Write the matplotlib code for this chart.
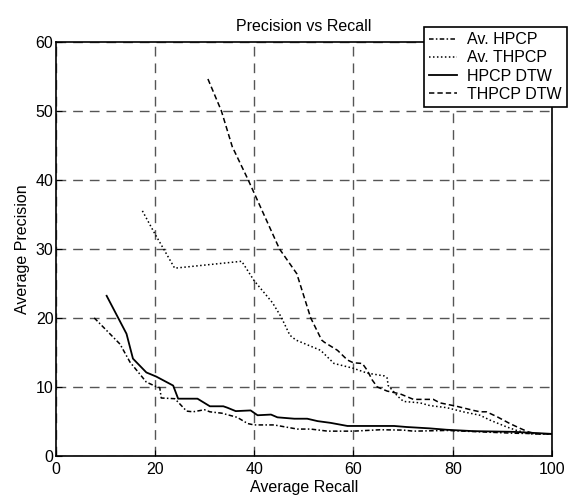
import matplotlib
matplotlib.use("Agg")
import matplotlib.pyplot as plt

# ---- data ----
av_hpcp_recall = [7.8, 13.0, 15.0, 18.3, 20.3, 21.0, 21.3, 24.0, 24.7, 26.4, 27.7, 30.0, 31.1, 33.5,
                  36.6, 38.7, 40.0, 44.0, 48.7, 51.4, 54.8, 60.0, 65.4, 70.0, 72.1, 78.8, 85.5, 92.2, 100]
av_hpcp_prec = [20.0, 16.2, 13.6, 10.7, 10.05, 9.9, 8.4, 8.3, 7.8, 6.5, 6.4, 6.7, 6.4, 6.2,
                5.6, 4.7, 4.5, 4.5, 3.9, 3.9, 3.6, 3.6, 3.8, 3.75, 3.6, 3.7, 3.5, 3.3, 3.2]

av_thpcp_recall = [17.5, 20.0, 22.0, 24.0, 37.5, 40.0, 43.7, 45.4, 47.2, 48.4, 53.4, 56.1, 60.0, 62.8,
                   66.2, 66.8, 67.0, 69.0, 70.1, 73.4, 75.4, 78.8, 82.1, 85.5, 87.5, 90.9, 92.9, 95.6, 100]
av_thpcp_prec = [35.5, 32.2, 29.7, 27.2, 28.2, 25.4, 22.2, 20.2, 17.5, 16.8, 15.3, 13.4, 12.7, 12.0,
                 11.6, 11.3, 10.2, 8.6, 7.9, 7.7, 7.3, 7.0, 6.4, 5.9, 5.2, 4.2, 3.7, 3.2, 3.2]

hpcp_dtw_recall = [10.3, 14.3, 15.6, 18.3, 20.3, 23.7, 24.7, 28.6, 31.1, 33.8, 34.6, 36.3, 39.3, 40.7,
                   43.4, 44.7, 48.1, 50.7, 52.8, 55.4, 58.8, 68.2, 70.7, 75.4, 78.8, 84.2, 92.2, 100]
hpcp_dtw_prec = [23.2, 17.7, 14.1, 12.1, 11.5, 10.2, 8.3, 8.3, 7.2, 7.2, 7.0, 6.5, 6.6, 5.9,
                 6.0, 5.6, 5.4, 5.4, 5.05, 4.8, 4.35, 4.35, 4.2, 4.0, 3.8, 3.6, 3.5, 3.2]

thpcp_dtw_recall = [30.7, 33.4, 35.6, 38.8, 45.1, 48.6, 51.4, 53.6, 54.1, 56.8, 58.8, 60.0, 61.8, 62.8,
                    63.8, 64.8, 66.8, 69.4, 72.1, 76.1, 77.4, 80.8, 84.2, 85.5, 86.8, 88.9, 91.5, 93.6,
                    95.2, 96.9, 100]
thpcp_dtw_prec = [54.6, 50.0, 44.8, 40.0, 30.0, 26.4, 20.0, 16.8, 16.5, 15.3, 13.9, 13.5, 13.4, 12.4,
                  11.0, 10.0, 9.4, 9.0, 8.2, 8.2, 7.7, 7.2, 6.6, 6.4, 6.4, 5.7, 4.7, 4.0,
                  3.5, 3.2, 3.2]

labels = ["Av. HPCP", "Av. THPCP", "HPCP DTW", "THPCP DTW"]
xticks = [0, 20, 40, 60, 80, 100]
yticks = [0, 10, 20, 30, 40, 50, 60]

plt.rcParams['font.family'] = ['Liberation Sans', 'DejaVu Sans']

W, H = 569, 495
fig = plt.figure(figsize=(W / 100, H / 100), dpi=100)
ax = fig.add_axes([55.5 / W, 1 - 456 / H, (552 - 55.5) / W, (456 - 41.7) / H])

lw = 1.1
ax.plot(av_hpcp_recall, av_hpcp_prec, color='black', lw=lw, linestyle=(0, (3, 1.5, 1, 1.5)), label=labels[0])
ax.plot(av_thpcp_recall, av_thpcp_prec, color='black', lw=lw, linestyle=(0, (1, 1.6)), label=labels[1])
ax.plot(hpcp_dtw_recall, hpcp_dtw_prec, color='black', lw=1.3, linestyle='-', label=labels[2])
ax.plot(thpcp_dtw_recall, thpcp_dtw_prec, color='black', lw=lw, linestyle=(0, (3.5, 2)), label=labels[3])

ax.set_xlim(0, 100)
ax.set_ylim(0, 60)
ax.set_xticks(xticks)
ax.set_yticks(yticks)
ax.tick_params(direction='in', length=4, labelsize=11.5, top=False, right=False)
ax.tick_params(axis='x', pad=4.5)
ax.tick_params(axis='y', pad=1.5)
ax.grid(True, color='#555555', linestyle=(0, (7, 5)), linewidth=1.0)
for s in ax.spines.values():
    s.set_linewidth(1.2)
    s.set_color('black')

ax.set_title("Precision vs Recall", fontsize=11.5, pad=7.5)
ax.set_xlabel("Average Recall", fontsize=11.5, labelpad=2)
ax.set_ylabel("Average Precision", fontsize=11.5, labelpad=4)

leg = ax.legend(loc='upper right', bbox_to_anchor=(567 / W, 1 - 26.7 / H), bbox_transform=fig.transFigure,
                fontsize=11.5, frameon=True, fancybox=False, framealpha=1, edgecolor='black',
                handlelength=1.75, handletextpad=0.6, labelspacing=0.2, borderpad=0.35, borderaxespad=0)
leg.get_frame().set_linewidth(1.2)

fig.savefig("out.png", dpi=100)
